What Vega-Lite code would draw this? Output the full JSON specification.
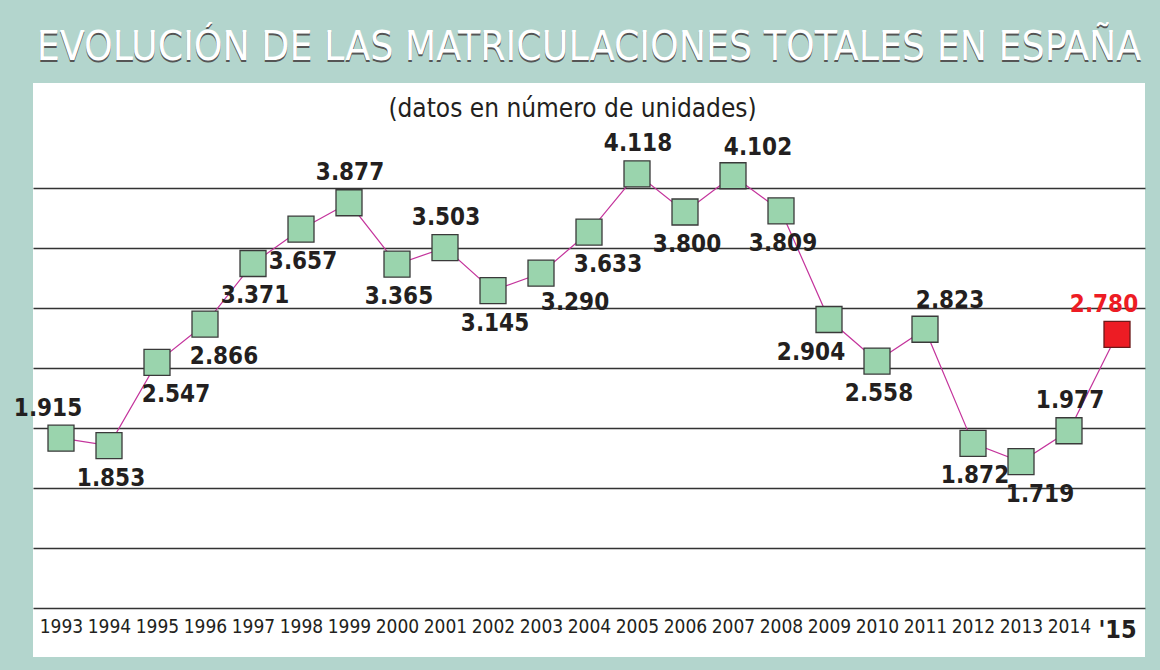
{
  "$schema": "https://vega.github.io/schema/vega-lite/v6.json",
  "autosize": {"type": "none"},
  "width": 1112,
  "height": 574,
  "padding": {"left": 33, "top": 83, "right": 15, "bottom": 13},
  "background": "#b3d5cd",
  "config": {
    "view": {"fill": "white", "stroke": null},
    "font": "DejaVu Sans Condensed, sans-serif"
  },
  "title": {
    "text": "EVOLUCIÓN DE LAS MATRICULACIONES TOTALES EN ESPAÑA",
    "subtitle": "EVOLUCIÓN DE LAS MATRICULACIONES TOTALES EN ESPAÑA",
    "anchor": "middle",
    "frame": "group",
    "font": "DejaVu Sans Condensed, sans-serif",
    "fontSize": 40.5,
    "fontWeight": "normal",
    "color": "#555555",
    "subtitleFont": "DejaVu Sans Condensed, sans-serif",
    "subtitleFontSize": 40.5,
    "subtitleFontWeight": "normal",
    "subtitleColor": "#ffffff",
    "subtitlePadding": -42.5,
    "offset": 11
  },
  "data": {
    "values": [
      {"year": 1993, "v": 1.915},
      {"year": 1994, "v": 1.853},
      {"year": 1995, "v": 2.547},
      {"year": 1996, "v": 2.866},
      {"year": 1997, "v": 3.371},
      {"year": 1998, "v": 3.657},
      {"year": 1999, "v": 3.877},
      {"year": 2000, "v": 3.365},
      {"year": 2001, "v": 3.503},
      {"year": 2002, "v": 3.145},
      {"year": 2003, "v": 3.290},
      {"year": 2004, "v": 3.633},
      {"year": 2005, "v": 4.118},
      {"year": 2006, "v": 3.800},
      {"year": 2007, "v": 4.102},
      {"year": 2008, "v": 3.809},
      {"year": 2009, "v": 2.904},
      {"year": 2010, "v": 2.558},
      {"year": 2011, "v": 2.823},
      {"year": 2012, "v": 1.872},
      {"year": 2013, "v": 1.719},
      {"year": 2014, "v": 1.977},
      {"year": 2015, "v": 2.780}
    ]
  },
  "encoding": {
    "x": {
      "field": "year",
      "type": "quantitative",
      "scale": {"domain": [1992.4167, 2015.5833], "nice": false, "zero": false},
      "axis": {
        "orient": "bottom",
        "offset": -49,
        "title": null,
        "values": [1993,1994,1995,1996,1997,1998,1999,2000,2001,2002,2003,2004,2005,2006,2007,2008,2009,2010,2011,2012,2013,2014,2015],
        "labelExpr": "datum.value == 2015 ? \"'15\" : format(datum.value, 'd')",
        "labelFont": "DejaVu Sans Condensed, sans-serif",
        "labelFontSize": {"condition": {"test": "datum.value == 2015", "value": 25}, "value": 19},
        "labelFontWeight": {"condition": {"test": "datum.value == 2015", "value": "bold"}, "value": "normal"},
        "labelColor": "#231f20",
        "labelPadding": 9,
        "labelOverlap": false,
        "labelFlush": false,
        "grid": false,
        "domain": false,
        "ticks": false
      }
    },
    "y": {
      "field": "v",
      "type": "quantitative",
      "scale": {"domain": [0.0917, 4.875], "nice": false, "zero": false},
      "axis": {
        "orient": "left",
        "values": [0.5, 1, 1.5, 2, 2.5, 3, 3.5, 4],
        "grid": true,
        "gridColor": "#333333",
        "gridWidth": 1.4,
        "gridOpacity": 1,
        "domain": false,
        "ticks": false,
        "labels": false,
        "title": "(datos en número de unidades)",
        "titleAngle": 0,
        "titleX": 539,
        "titleY": 25,
        "titleAlign": "center",
        "titleBaseline": "middle",
        "titleFont": "DejaVu Sans Condensed, sans-serif",
        "titleFontSize": 26,
        "titleFontWeight": "normal",
        "titleColor": "#231f20"
      }
    }
  },
  "layer": [
    {
      "data": {"values": [{}]},
      "mark": {"type": "rule", "color": "#222222", "strokeWidth": 1.5},
      "encoding": {"x": {"datum": 1992.5}, "y": {"datum": 4.483}, "y2": {"datum": 0.283}}
    },
    {
      "data": {"values": [{}]},
      "mark": {"type": "rule", "color": "#777777", "strokeWidth": 2},
      "encoding": {"x": {"datum": 2015.5}, "y": {"datum": 4.483}, "y2": {"datum": 0.283}}
    },
    {
      "mark": {"type": "line", "color": "#c4349c", "strokeWidth": 1.2}
    },
    {
      "mark": {"type": "point", "shape": "square", "size": 676, "filled": true, "stroke": "#3a3a3a", "strokeWidth": 1.3, "opacity": 1},
      "encoding": {
        "fill": {"condition": {"test": "datum.year == 2015", "value": "#ed1c24"}, "value": "#9ad4ad"},
        "stroke": {"condition": {"test": "datum.year == 2015", "value": "#6b1a1a"}, "value": "#3a3a3a"}
      }
    },
    {
      "transform": [{"filter": {"field": "year", "oneOf": [1999, 2001, 2005, 2014]}}],
      "mark": {"type": "text", "fontWeight": "bold", "fontSize": 24, "baseline": "middle", "align": "center", "dx": 1, "dy": -30, "color": "#231f20"},
      "encoding": {"text": {"field": "v", "format": ".3f"}}
    },
    {
      "transform": [{"filter": {"field": "year", "oneOf": [1993, 2015]}}],
      "mark": {"type": "text", "fontWeight": "bold", "fontSize": 24, "baseline": "middle", "align": "center", "dx": -13, "dy": -29},
      "encoding": {
        "text": {"field": "v", "format": ".3f"},
        "color": {"condition": {"test": "datum.year == 2015", "value": "#ed1c24"}, "value": "#231f20"}
      }
    },
    {
      "transform": [{"filter": {"field": "year", "oneOf": [2007, 2011]}}],
      "mark": {"type": "text", "fontWeight": "bold", "fontSize": 24, "baseline": "middle", "align": "center", "dx": 25, "dy": -28, "color": "#231f20"},
      "encoding": {"text": {"field": "v", "format": ".3f"}}
    },
    {
      "transform": [{"filter": {"field": "year", "oneOf": [1994, 1997, 1998, 2000, 2002, 2006, 2008, 2010, 2012]}}],
      "mark": {"type": "text", "fontWeight": "bold", "fontSize": 24, "baseline": "middle", "align": "center", "dx": 2, "dy": 33, "color": "#231f20"},
      "encoding": {"text": {"field": "v", "format": ".3f"}}
    },
    {
      "transform": [{"filter": {"field": "year", "oneOf": [1995, 1996, 2004, 2013]}}],
      "mark": {"type": "text", "fontWeight": "bold", "fontSize": 24, "baseline": "middle", "align": "center", "dx": 19, "dy": 33, "color": "#231f20"},
      "encoding": {"text": {"field": "v", "format": ".3f"}}
    },
    {
      "transform": [{"filter": {"field": "year", "oneOf": [2003]}}],
      "mark": {"type": "text", "fontWeight": "bold", "fontSize": 24, "baseline": "middle", "align": "center", "dx": 34, "dy": 30, "color": "#231f20"},
      "encoding": {"text": {"field": "v", "format": ".3f"}}
    },
    {
      "transform": [{"filter": {"field": "year", "oneOf": [2009]}}],
      "mark": {"type": "text", "fontWeight": "bold", "fontSize": 24, "baseline": "middle", "align": "center", "dx": -18, "dy": 33, "color": "#231f20"},
      "encoding": {"text": {"field": "v", "format": ".3f"}}
    }
  ]
}
